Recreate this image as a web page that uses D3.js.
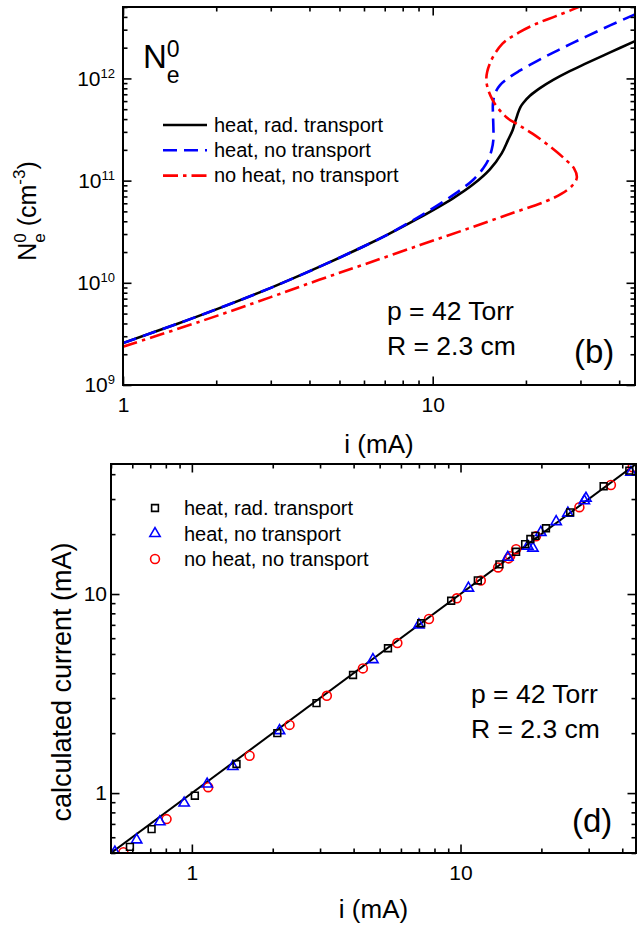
<!DOCTYPE html>
<html>
<head>
<meta charset="utf-8">
<script src="https://cdn.jsdelivr.net/npm/d3@7"></script>
<style>
  body { margin: 0; background: #fff; }
  svg { display: block; font-family: "Liberation Sans", Arial, Helvetica, sans-serif; }
</style>
</head>
<body>
<svg id="fig" width="639" height="928"></svg>
<script>
// ---------- Panel (b): peak electron density N_e^0 vs discharge current i ----------
// heat, rad. transport
const currentRad = [1, 1.5, 2, 3, 4.3, 6, 7.1, 8.88, 11.66, 13.52, 15.3, 16.7, 17.5, 18.1, 18.4, 18.9, 19.2, 19.6,
                    20.6, 22.2, 24.5, 27.7, 31.4, 37.4, 45];
const densityRad = [2.57e9, 3.98e9, 5.5e9, 8.93e9, 1.43e10, 2.28e10, 2.93e10, 4.19e10, 6.75e10, 9.2e10, 1.29e11,
                    1.85e11, 2.49e11, 3.09e11, 3.63e11, 4.68e11, 5.25e11, 5.75e11, 6.76e11, 8.04e11, 9.68e11, 1.18e12,
                    1.41e12, 1.8e12, 2.32e12];
// heat, no transport
const currentNoTr = [1, 1.5, 2, 3, 4.3, 6, 7.1, 8.88, 9.8, 11.1, 12.25, 13.52, 14.56, 15.1, 15.5, 15.7, 15.7, 15.65,
                     15.65, 15.9, 16.5, 17.8, 19.1, 21.7, 24.5, 27.7, 31.4, 37.4, 45];
const densityNoTr = [2.57e9, 3.98e9, 5.5e9, 8.93e9, 1.43e10, 2.28e10, 2.93e10, 4.29e10, 5.14e10, 6.55e10, 8.05e10,
                     1.02e11, 1.32e11, 1.58e11, 2.0e11, 2.51e11, 3.37e11, 4.57e11, 5.7e11, 7.14e11, 8.61e11, 1.04e12,
                     1.19e12, 1.48e12, 1.79e12, 2.15e12, 2.58e12, 3.3e12, 4.24e12];
// no heat, no transport (S-shaped, multivalued in i)
const currentNoHeat = [1, 1.77, 3, 4.3, 6, 9.1, 13, 18, 23.3, 26, 28.2, 29.2, 28.6, 27, 24, 21, 18.8, 17.3, 15.6, 14.9,
                       15.3, 16.8, 19, 21.6, 25, 29.7, 34];
const densityNoHeat = [2.37e9, 4.17e9, 7.24e9, 1.07e10, 1.51e10, 2.34e10, 3.39e10, 4.79e10, 6.31e10, 7.41e10, 8.91e10,
                       1.07e11, 1.32e11, 1.58e11, 2.14e11, 2.88e11, 3.55e11, 4.17e11, 6.17e11, 9.55e11, 1.4e12, 2.19e12,
                       2.82e12, 3.43e12, 4.07e12, 5.01e12, 6.03e12];

// ---------- Panel (d): calculated current vs imposed current ----------
const squaresI    = [0.588, 0.708, 1.026, 1.466, 2.08, 2.91, 3.98, 5.37, 7.14, 9.23, 11.6, 13.96, 16.1, 17.4, 18.2, 19.0, 20.8, 25.6, 34.1, 42.5];
const squaresCalc = [0.537, 0.659, 0.97, 1.40, 2.0, 2.83, 3.92, 5.34, 7.13, 9.25, 11.7, 14.1, 16.3, 17.8, 18.9, 19.6, 21.4, 25.7, 34.8, 41.7];
const trianglesI    = [0.517, 0.623, 0.76, 0.936, 1.14, 1.42, 2.12, 4.72, 7.0, 10.7, 15.0, 17.8, 18.6, 19.9, 22.7, 25.1, 28.9, 29.3, 43.1];
const trianglesCalc = [0.505, 0.582, 0.717, 0.891, 1.11, 1.36, 2.06, 4.68, 7.0, 10.7, 15.3, 17.4, 17.0, 20.4, 23.1, 25.5, 29.4, 30.3, 40.9];
const circlesI    = [0.556, 0.805, 1.15, 1.64, 2.31, 3.18, 4.33, 5.82, 7.63, 9.69, 11.9, 13.8, 15.1, 15.3, 16.1, 19.1, 27.7, 36.3, 43.7];
const circlesCalc = [0.505, 0.74, 1.07, 1.54, 2.20, 3.08, 4.23, 5.67, 7.49, 9.52, 11.7, 13.6, 15.1, 15.5, 16.8, 19.5, 27.3, 35.3, 43.3];
// reference line: calculated = imposed
const identityEnds = [0.5, 45];

// tick labels
const topXTicks = [1, 10];
const topYTicks = [1e9, 1e10, 1e11, 1e12];
const botXTicks = [1, 10];
const botYTicks = [1, 10];

const legendTop = ["heat, rad. transport", "heat, no transport", "no heat, no transport"];
const legendBottom = ["heat, rad. transport", "heat, no transport", "no heat, no transport"];

// ---------- drawing ----------
const svg = d3.select("#fig");
const FONT = '"Liberation Sans", Arial, Helvetica, sans-serif';

function minorLog(domain) {
  const out = [];
  const lo = Math.floor(Math.log10(domain[0])), hi = Math.ceil(Math.log10(domain[1]));
  for (let e = lo; e <= hi; e++) {
    for (let m = 2; m <= 9; m++) {
      const v = m * Math.pow(10, e);
      if (v >= domain[0] * 0.999 && v <= domain[1] * 1.001) out.push(v);
    }
  }
  return out;
}

function styleAxis(g) {
  g.attr("font-family", null).attr("font-size", null);
  g.select(".domain").remove();
  g.selectAll(".tick line").attr("stroke", "#000").attr("stroke-width", 1.6);
  g.selectAll(".tick text").attr("fill", "#000").style("font-size", "21px").style("font-family", FONT);
}

// four-sided frame with inward major and minor ticks
function drawFrame(box, x, y, cfg) {
  const g = svg.append("g");
  const xMin = minorLog(x.domain()), yMin = minorLog(y.domain());
  const sides = [
    { make: () => d3.axisBottom(x), tr: `translate(0,${box.bottom})`, major: cfg.xTicks, minor: xMin, labels: true, pad: cfg.xPad },
    { make: () => d3.axisTop(x), tr: `translate(0,${box.top})`, major: cfg.xTicks, minor: xMin, labels: false, pad: 3 },
    { make: () => d3.axisLeft(y), tr: `translate(${box.left},0)`, major: cfg.yTicks, minor: yMin, labels: true, pad: cfg.yPad, left: true },
    { make: () => d3.axisRight(y), tr: `translate(${box.right},0)`, major: cfg.yTicks, minor: yMin, labels: false, pad: 3 }
  ];
  sides.forEach(s => {
    g.append("g").attr("transform", s.tr)
      .call(s.make().tickValues(s.minor).tickSizeInner(-4.5).tickSizeOuter(0).tickFormat(""))
      .call(styleAxis);
    const ag = g.append("g").attr("transform", s.tr)
      .call(s.make().tickValues(s.major).tickSizeInner(-8.5).tickSizeOuter(0)
        .tickPadding(s.pad).tickFormat(s.labels ? (d => d) : ""))
      .call(styleAxis);
    if (s.left && cfg.powerLabels) {
      ag.selectAll(".tick text").each(function (d) {
        const t = d3.select(this);
        t.text(null);
        t.append("tspan").text("10");
        t.append("tspan").attr("dy", "-8").style("font-size", "13px").text(Math.round(Math.log10(d)));
      });
    }
  });
  g.append("rect")
    .attr("x", box.left).attr("y", box.top)
    .attr("width", box.right - box.left).attr("height", box.bottom - box.top)
    .attr("fill", "none").attr("stroke", "#000").attr("stroke-width", 2);
}

// ===== Panel (b) =====
const topBox = { left: 123, right: 635, top: 7, bottom: 385 };
const xTop = d3.scaleLog().domain([1, 45]).range([topBox.left, topBox.right]);
const yTop = d3.scaleLog().domain([1e9, 5e12]).range([topBox.bottom, topBox.top]);

svg.append("clipPath").attr("id", "clipTop").append("rect")
  .attr("x", topBox.left).attr("y", topBox.top)
  .attr("width", topBox.right - topBox.left).attr("height", topBox.bottom - topBox.top);

const lineTop = d3.line().x(d => xTop(d[0])).y(d => yTop(d[1])).curve(d3.curveCatmullRom.alpha(0.5));
const topSeries = [
  { i: currentRad, n: densityRad, color: "#000000", dash: null },
  { i: currentNoTr, n: densityNoTr, color: "#0000ff", dash: "14,7" },
  { i: currentNoHeat, n: densityNoHeat, color: "#ff0000", dash: "15,5,3.5,5" }
];
const curves = svg.append("g").attr("clip-path", "url(#clipTop)");
topSeries.forEach(s => {
  curves.append("path")
    .datum(d3.zip(s.i, s.n))
    .attr("d", lineTop)
    .attr("fill", "none")
    .attr("stroke", s.color)
    .attr("stroke-width", 2.6)
    .attr("stroke-dasharray", s.dash);
});

drawFrame(topBox, xTop, yTop, {
  xTicks: topXTicks, yTicks: topYTicks, powerLabels: true, xPad: 12, yPad: 8
});

// legend (b)
const legT = svg.append("g");
topSeries.forEach((s, k) => {
  const yy = 125 + k * 25.3;
  legT.append("line").attr("x1", 163).attr("x2", 207).attr("y1", yy).attr("y2", yy)
    .attr("stroke", s.color).attr("stroke-width", 2.6).attr("stroke-dasharray", s.dash);
  legT.append("text").attr("x", 214).attr("y", yy + 6.5).style("font-size", "20px").text(legendTop[k]);
});

// N_e^0 label inside the panel
const ne = svg.append("text").attr("x", 143).attr("y", 68).style("font-size", "33px");
ne.append("tspan").text("N");
ne.append("tspan").attr("dy", -11).style("font-size", "23px").text("0");
ne.append("tspan").attr("dx", -0.556 * 23).attr("dy", 26).style("font-size", "23px").text("e");

// annotations (b)
svg.append("text").attr("x", 387).attr("y", 320).style("font-size", "26.5px").text("p = 42 Torr");
svg.append("text").attr("x", 387).attr("y", 355).style("font-size", "26.5px").text("R = 2.3 cm");
svg.append("text").attr("x", 574).attr("y", 363).style("font-size", "33px").text("(b)");

// axis titles (b)
svg.append("text").attr("x", (topBox.left + topBox.right) / 2).attr("y", 453)
  .attr("text-anchor", "middle").style("font-size", "26px").text("i (mA)");
const yt = svg.append("text").attr("transform", "translate(36,211) rotate(-90)")
  .attr("text-anchor", "middle").style("font-size", "25px");
yt.append("tspan").text("N");
yt.append("tspan").attr("dy", -10).style("font-size", "17px").text("0");
yt.append("tspan").attr("dx", -0.556 * 17).attr("dy", 19).style("font-size", "17px").text("e");
yt.append("tspan").attr("dy", -9).text(" (cm");
yt.append("tspan").attr("dy", -11).style("font-size", "17px").text("-3");
yt.append("tspan").attr("dy", 11).text(")");

// ===== Panel (d) =====
const botBox = { left: 111, right: 636, top: 464, bottom: 853 };
const xBot = d3.scaleLog().domain([0.5, 45]).range([botBox.left, botBox.right]);
const yBot = d3.scaleLog().domain([0.5, 45]).range([botBox.bottom, botBox.top]);

svg.append("clipPath").attr("id", "clipBot").append("rect")
  .attr("x", botBox.left).attr("y", botBox.top)
  .attr("width", botBox.right - botBox.left).attr("height", botBox.bottom - botBox.top);

const pts = svg.append("g").attr("clip-path", "url(#clipBot)");
pts.append("path")
  .datum(identityEnds.map(v => [v, v]))
  .attr("d", d3.line().x(d => xBot(d[0])).y(d => yBot(d[1])))
  .attr("fill", "none").attr("stroke", "#000").attr("stroke-width", 2);

const markerSets = [
  { i: circlesI, c: circlesCalc, type: d3.symbolCircle, size: 62, color: "#ff0000" },
  { i: trianglesI, c: trianglesCalc, type: d3.symbolTriangle, size: 46, color: "#0000ff" },
  { i: squaresI, c: squaresCalc, type: d3.symbolSquare, size: 46, color: "#000000" }
];
markerSets.forEach(m => {
  const sym = d3.symbol().type(m.type).size(m.size);
  pts.selectAll(null).data(d3.zip(m.i, m.c)).join("path")
    .attr("transform", d => `translate(${xBot(d[0])},${yBot(d[1])})`)
    .attr("d", sym)
    .attr("fill", "none").attr("stroke", m.color).attr("stroke-width", 1.6);
});

drawFrame(botBox, xBot, yBot, {
  xTicks: botXTicks, yTicks: botYTicks, powerLabels: false, xPad: 12, yPad: 4
});

// legend (d)
const legB = svg.append("g");
[markerSets[2], markerSets[1], markerSets[0]].forEach((m, k) => {
  const yy = 508 + k * 25.5;
  legB.append("path").attr("transform", `translate(155,${yy})`)
    .attr("d", d3.symbol().type(m.type).size(m.size)())
    .attr("fill", "none").attr("stroke", m.color).attr("stroke-width", 1.6);
  legB.append("text").attr("x", 184).attr("y", yy + 7).style("font-size", "20px").text(legendBottom[k]);
});

// annotations (d)
svg.append("text").attr("x", 471).attr("y", 703).style("font-size", "26.5px").text("p = 42 Torr");
svg.append("text").attr("x", 471).attr("y", 738).style("font-size", "26.5px").text("R = 2.3 cm");
svg.append("text").attr("x", 572).attr("y", 832).style("font-size", "33px").text("(d)");

// axis titles (d)
svg.append("text").attr("x", (botBox.left + botBox.right) / 2).attr("y", 918)
  .attr("text-anchor", "middle").style("font-size", "26px").text("i (mA)");
svg.append("text").attr("transform", "translate(71,682) rotate(-90)")
  .attr("text-anchor", "middle").style("font-size", "27px").text("calculated current (mA)");
</script>
</body>
</html>
